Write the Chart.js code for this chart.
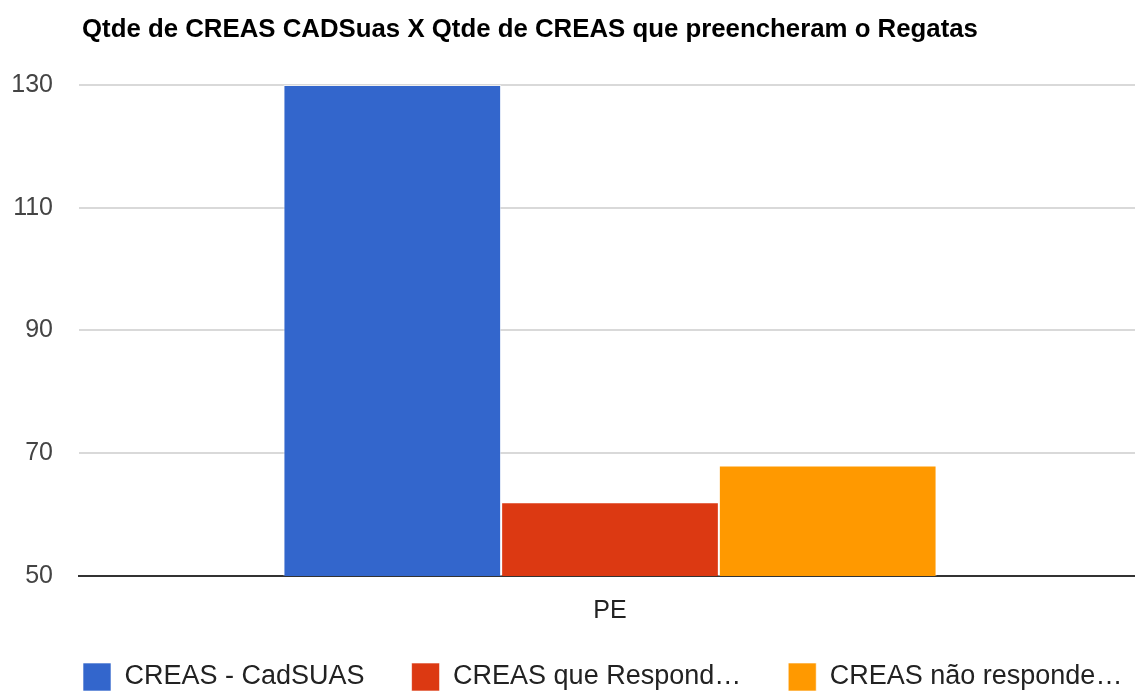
<!DOCTYPE html>
<html lang="pt">
<head>
  <meta charset="UTF-8">
  <title>Qtde de CREAS</title>
  <script src="https://cdn.jsdelivr.net/npm/chart.js"></script>
  <style>
    html, body { margin: 0; padding: 0; background: #fff; overflow: hidden; }
    .chart-container { position: relative; width: 1141px; height: 691px; }
  </style>
</head>
<body>
  <div class="chart-container">
    <canvas id="creasChart"></canvas>
  </div>
  <script>
    // Data
    const categories = ['PE'];
    const seriesLabels = ['CREAS - CadSUAS', 'CREAS que Respond\u2026', 'CREAS n\u00e3o responde\u2026'];
    const cadSuas = [130];
    const responderam = [62];
    const naoResponderam = [68];
    const yTicks = [50, 70, 90, 110, 130];

    const colors = ['#3366cc', '#dc3912', '#ff9900'];
    const FONT = "'Liberation Sans', Arial, sans-serif";

    // move title and legend right, keep the legend on one row,
    // and give the x labels room to draw
    const shiftBlocks = {
      id: 'shiftBlocks',
      afterLayout(chart) {
        if (chart.titleBlock) chart.titleBlock.left = 82;
        if (chart.legend) {
          chart.legend.left = 36;
          chart.legend.right = chart.width + 300;
        }
        if (chart.scales.x) chart.scales.x.bottom = chart.scales.x.top + 60;
      }
    };

    const ctx = document.getElementById('creasChart').getContext('2d');
    new Chart(ctx, {
      type: 'bar',
      data: {
        labels: categories,
        datasets: [cadSuas, responderam, naoResponderam].map((values, i) => ({
          label: seriesLabels[i],
          data: values,
          backgroundColor: colors[i],
          borderColor: 'rgba(255,255,255,0.6)',
          borderWidth: 1,
          borderSkipped: 'bottom'
        }))
      },
      options: {
        responsive: true,
        maintainAspectRatio: false,
        animation: false,
        categoryPercentage: 0.615,
        barPercentage: 1,
        layout: { padding: { left: 0, right: 0, top: 0, bottom: -10 } },
        scales: {
          x: {
            grid: { display: false },
            border: { display: true, color: '#333', width: 2 },
            ticks: { color: '#222', font: { family: FONT, size: 25 }, padding: 12 },
            afterFit(scale) { scale.height = 40; }
          },
          y: {
            min: yTicks[0],
            max: yTicks[yTicks.length - 1],
            afterBuildTicks(scale) { scale.ticks = yTicks.map(v => ({ value: v })); },
            grid: { color: '#d9d9d9', lineWidth: 2, drawTicks: false },
            border: { display: false },
            ticks: { color: '#444', font: { family: FONT, size: 25 }, padding: 26 },
            afterFit(scale) { scale.width = 79; }
          }
        },
        plugins: {
          title: {
            display: true,
            text: 'Qtde de CREAS CADSuas X Qtde de CREAS que preencheram o Regatas',
            align: 'start',
            color: '#000',
            font: { family: FONT, size: 25.8, weight: 'bold' },
            padding: { top: 14, bottom: 40 }
          },
          legend: {
            position: 'bottom',
            align: 'start',
            labels: {
              color: '#222',
              font: { family: FONT, size: 27 },
              boxWidth: 28,
              boxHeight: 28,
              padding: 47
            }
          },
          tooltip: { enabled: false }
        }
      },
      plugins: [shiftBlocks]
    });
  </script>
</body>
</html>
